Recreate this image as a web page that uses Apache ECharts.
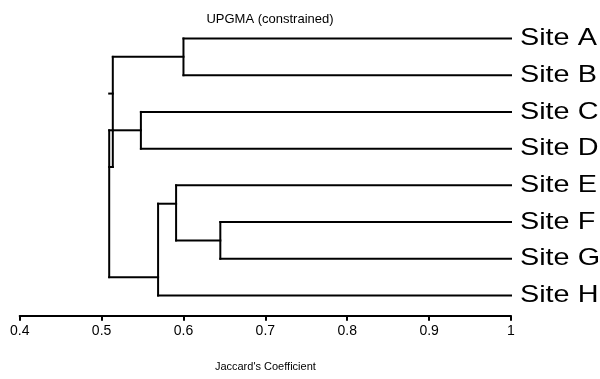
<!DOCTYPE html>
<html><head><meta charset="utf-8">
<script src="https://cdn.jsdelivr.net/npm/echarts@6/dist/echarts.min.js"></script>
<style>html,body{margin:0;padding:0;background:#fff}#c{width:600px;height:379px}</style>
</head><body><div id="c"></div>
<script>
const chartTitle = 'UPGMA (constrained)';
const axisTitle = "Jaccard's Coefficient";
const sites = ['Site A','Site B','Site C','Site D','Site E','Site F','Site G','Site H'];
const tickLabels = ['0.4','0.5','0.6','0.7','0.8','0.9','1'];
// internal nodes of the dendrogram
const nodeNames = ['AB','CD','FG','EFG','EFGH','ABCD','Root'];
const nodeCoef = [0.600, 0.548, 0.645, 0.591, 0.569, 0.5137, 0.5093];
const nodeChildren = [['Site A','Site B'],['Site C','Site D'],['Site F','Site G'],['Site E','FG'],['EFG','Site H'],['AB','CD'],['ABCD','EFGH']];
const nodeSpan = [[0,1],[2,3],[5,6],[4,5.5],[4.5,7],[0.5,3.5],[2.5,6.5]];
const nodeJoin = [[0.5],[2.5],[5.5],[4.5],[6.5],[1.5,2.5,3.5],[]];

const FONT = '"Liberation Sans", Arial, sans-serif';
const info = {};
sites.forEach((s,i)=>{ info[s] = {coef:1, join:[i]}; });
nodeNames.forEach((n,i)=>{ info[n] = {coef:nodeCoef[i], join:nodeJoin[i]}; });
const segs = [];
nodeNames.forEach((n,i)=>{
  segs.push([nodeCoef[i], nodeSpan[i][0], nodeCoef[i], nodeSpan[i][1]]);
  nodeChildren[i].forEach(c=>{
    info[c].join.forEach(r=>segs.push([info[c].coef, r, nodeCoef[i], r]));
  });
});
const labelData = sites.map((s,i)=>[1, i, s]);

const chart = echarts.init(document.getElementById('c'), null, {renderer:'canvas'});
chart.setOption({
  animation:false,
  backgroundColor:'#fff',
  title:{text:chartTitle, left:265, top:8, textAlign:'center',
    textStyle:{fontFamily:FONT, fontSize:13, fontWeight:'normal', color:'#000'}},
  grid:{left:19.7, right:89, top:20.15, bottom:63.3, containLabel:false},
  xAxis:{type:'value', min:0.4, max:1, interval:0.1, position:'bottom',
    name:axisTitle, nameLocation:'middle', nameGap:46,
    nameTextStyle:{fontFamily:FONT, fontSize:11, color:'#000'},
    axisLine:{show:true, onZero:false, lineStyle:{color:'#000', width:2}},
    axisTick:{show:true, length:5, lineStyle:{color:'#000', width:2}},
    axisLabel:{margin:8, fontFamily:FONT, fontSize:14, color:'#000',
      formatter:v=>tickLabels[Math.round((v-0.4)/0.1)]},
    splitLine:{show:false}},
  yAxis:{type:'value', min:-0.5, max:7.55, inverse:true, show:false},
  series:[
    {type:'custom', data:segs, encode:{x:[0,2], y:[1,3]},
      renderItem:(params, api)=>{
        const p1 = api.coord([api.value(0), api.value(1)]);
        const p2 = api.coord([api.value(2), api.value(3)]);
        return {type:'line', shape:{x1:p1[0], y1:p1[1], x2:p2[0], y2:p2[1]},
          style:{stroke:'#000', lineWidth:2, lineCap:'square'}};
      }},
    {type:'custom', data:labelData, encode:{x:0, y:1},
      renderItem:(params, api)=>{
        const p = api.coord([api.value(0), api.value(1)]);
        return {type:'text', x:p[0]+9, y:p[1], scaleX:1.2,
          style:{text:labelData[params.dataIndex][2], fontFamily:FONT, fontSize:24,
            fill:'#000', textAlign:'left', textVerticalAlign:'middle'}};
      }}
  ]
});
</script></body></html>
